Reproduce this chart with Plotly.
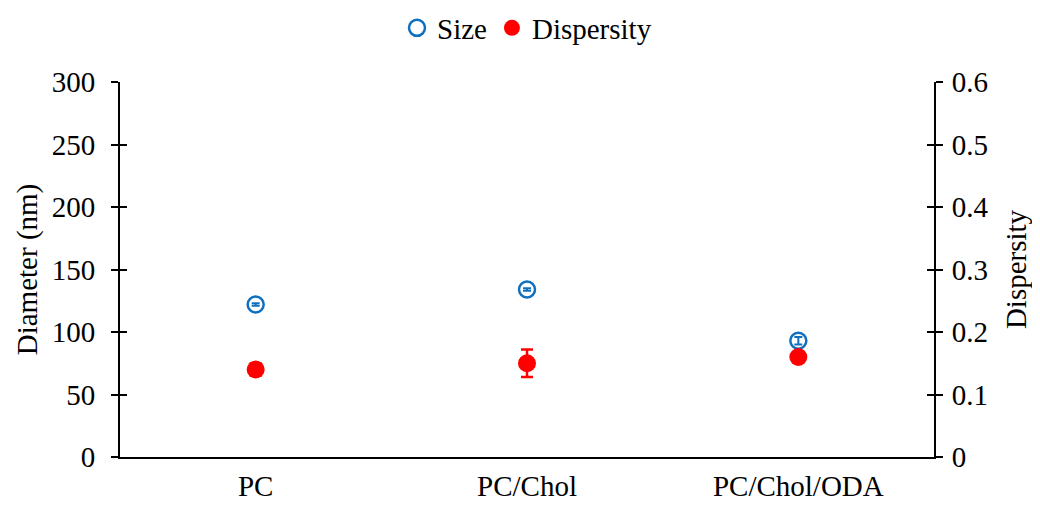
import plotly.graph_objects as go

categories = ["PC", "PC/Chol", "PC/Chol/ODA"]
size_nm = [122, 134, 93]
size_err = [1, 1, 3]
dispersity = [0.14, 0.15, 0.16]
dispersity_err = [0.01, 0.022, 0.004]

left_ticks = [0, 50, 100, 150, 200, 250, 300]
right_ticks = [0, 0.1, 0.2, 0.3, 0.4, 0.5, 0.6]
right_labels = ["0", "0.1", "0.2", "0.3", "0.4", "0.5", "0.6"]

FONT = "Liberation Serif, Times New Roman, serif"
BLUE = "#1070C0"
RED = "#FF0000"
FS = 29

fig = go.Figure()
fig.add_trace(go.Scatter(
    x=categories, y=size_nm, name="Size", mode="markers",
    marker=dict(symbol="circle-open", size=16, color=BLUE, line=dict(width=2.5, color=BLUE)),
    error_y=dict(type="data", array=size_err, color=BLUE, thickness=2, width=4),
    yaxis="y",
))
fig.add_trace(go.Scatter(
    x=categories, y=dispersity, name="Dispersity", mode="markers",
    marker=dict(symbol="circle", size=18, color=RED),
    error_y=dict(type="data", array=dispersity_err, color=RED, thickness=2.5, width=6),
    yaxis="y2",
))
# empty helper traces so the inner-tick overlay axes are drawn
fig.add_trace(go.Scatter(x=[], y=[], yaxis="y3", showlegend=False, hoverinfo="skip"))
fig.add_trace(go.Scatter(x=[], y=[], yaxis="y4", showlegend=False, hoverinfo="skip"))

tickfont = dict(family=FONT, size=FS, color="#000")
fig.update_layout(
    width=1040, height=505,
    margin=dict(l=112, r=114, t=74, b=56, autoexpand=False),
    paper_bgcolor="white", plot_bgcolor="white",
    font=dict(family=FONT, size=FS, color="#000"),
    showlegend=True,
    legend=dict(orientation="h", x=0.5, xanchor="center", y=1.144, yref="paper",
                yanchor="middle", font=dict(family=FONT, size=FS, color="#000"),
                itemsizing="trace", itemwidth=30, tracegroupgap=0),
    xaxis=dict(type="category", categoryorder="array", categoryarray=categories,
               range=[-0.5, 2.5], showline=True, linecolor="#000", linewidth=2,
               ticks="", showgrid=False, zeroline=False, tickfont=tickfont,
               ticklabelstandoff=2, automargin=False),
    yaxis=dict(range=[0, 300], tickvals=left_ticks, showline=True, linecolor="#000",
               linewidth=2, ticks="outside", ticklen=7, tickwidth=2, tickcolor="#000",
               showgrid=False, zeroline=False, tickfont=tickfont, automargin=False,
               ticklabelstandoff=10,
               title=dict(text="Diameter (nm)", font=dict(family=FONT, size=FS), standoff=6)),
    yaxis2=dict(range=[0, 0.6], tickvals=right_ticks, ticktext=right_labels,
                overlaying="y", side="right", anchor="x", showline=True, linecolor="#000",
                linewidth=2, ticks="outside", ticklen=7, tickwidth=2, tickcolor="#000",
                showgrid=False, zeroline=False, tickfont=tickfont, automargin=False,
                ticklabelstandoff=3,
                title=dict(text="Dispersity", font=dict(family=FONT, size=FS), standoff=18)),
    yaxis3=dict(range=[0, 300], tickvals=left_ticks, overlaying="y", side="left", anchor="x",
                showline=False, ticks="inside", ticklen=7, tickwidth=2, tickcolor="#000",
                showticklabels=False, showgrid=False, zeroline=False, automargin=False),
    yaxis4=dict(range=[0, 0.6], tickvals=right_ticks, overlaying="y", side="right", anchor="x",
                showline=False, ticks="inside", ticklen=7, tickwidth=2, tickcolor="#000",
                showticklabels=False, showgrid=False, zeroline=False, automargin=False),
)

fig.write_html("out.html")
